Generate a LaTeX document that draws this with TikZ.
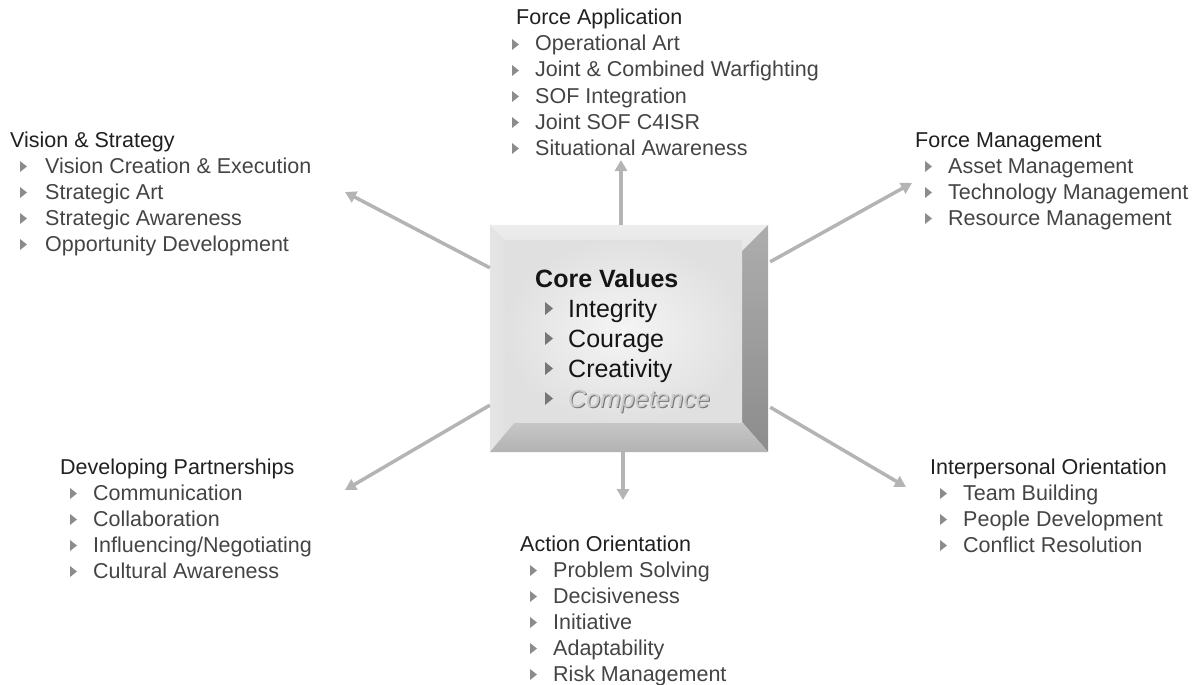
\documentclass[tikz,border=0pt]{standalone}
\usepackage{fontspec}
\setmainfont{Liberation Sans}
\usetikzlibrary{arrows.meta}
\definecolor{ttlc}{HTML}{202020}
\definecolor{itmc}{HTML}{444444}
\definecolor{bulc}{HTML}{8C8C8C}
\definecolor{arrc}{HTML}{B4B4B4}
\definecolor{corec}{HTML}{151515}
\tikzset{
  ttl/.style={anchor=base west, inner sep=0pt, font=\fontsize{21.5}{24}\selectfont, text=ttlc},
  itm/.style={anchor=base west, inner sep=0pt, font=\fontsize{21.5}{24}\selectfont, text=itmc},
  bul/.style={fill=bulc},
  arr/.style={draw=arrc, line width=3.5pt, -{Triangle[width=12pt,length=11pt]}},
  cv/.style={anchor=base west, inner sep=0pt, font=\fontsize{25}{28}\selectfont, text=corec},
  cbul/.style={fill=bulc!85!black},
}
% #1 name, #2 title x, #3 title baseline, #4 bullet x, #5 text x, #6 title, #7 items
\newcommand\grp[7]{%
  \node[ttl] (#1) at (#2,#3) {#6};
  \foreach \t [count=\i] in {#7} {
    \pgfmathsetmacro\yb{#3+26*\i}
    \fill[bul] (#4,\yb-12) -- (#4+7,\yb-6.5) -- (#4,\yb-1) -- cycle;
    \node[itm] (#1-\i) at (#5,\yb) {\t};
  }%
}
\begin{document}
\begin{tikzpicture}[x=1pt,y=-1pt]
\useasboundingbox (0,0) rectangle (1202,685);
% ---- core box ----
\node[inner sep=0pt, minimum width=278pt, minimum height=227pt] (core) at (629,338.5) {};
\coordinate (oA) at (core.north west);
\coordinate (oB) at (core.north east);
\coordinate (oC) at (core.south east);
\coordinate (oD) at (core.south west);
\coordinate (iA) at (505,240);
\coordinate (iB) at (742,251);
\coordinate (iC) at (742,422);
\coordinate (iD) at (515,422);
\shade[top color=white!93!black, bottom color=white!90!black] (oA) -- (oB) -- (iB) -- (iA) -- cycle;
\shade[left color=white!90!black, right color=white!87!black] (oA) -- (iA) -- (iD) -- (oD) -- cycle;
\shade[top color=white!68!black, bottom color=white!55!black] (oB) -- (oC) -- (iC) -- (iB) -- cycle;
\shade[top color=white!78!black, bottom color=white!70!black] (oD) -- (iD) -- (iC) -- (oC) -- cycle;
\shade[inner color=white!96!black, outer color=white!88!black] (iA) rectangle (iC);
\node[cv, font=\fontsize{25}{28}\selectfont\bfseries] (cvt) at (535,287) {Core Values};
\foreach \t [count=\i] in {Integrity,Courage,Creativity} {
  \pgfmathsetmacro\yb{287+30*\i}
  \fill[cbul] (545,\yb-15) -- (553,\yb-8.5) -- (545,\yb-2) -- cycle;
  \node[cv] (cv-\i) at (568,\yb) {\t};
}
\fill[cbul] (545,392) -- (553,398.5) -- (545,405) -- cycle;
\node[cv, text=black!55, font=\fontsize{25}{28}\selectfont\itshape] (cv-4s) at (569,408) {Competence};
\node[cv, text=white!80!black, font=\fontsize{25}{28}\selectfont\itshape] (cv-4) at (568,407) {Competence};
% ---- arrows ----
\coordinate (eUp) at (621,160);
\coordinate (eDn) at (623,500);
\coordinate (eUL) at (345,192);
\coordinate (eUR) at (912,183);
\coordinate (eLL) at (345,490);
\coordinate (eLR) at (906,487);
\draw[arr] (core.north -| eUp) -- (eUp);
\draw[arr] (core.south -| eDn) -- (eDn);
\draw[arr] ([yshift=-43pt]core.north west) -- (eUL);
\draw[arr] ([xshift=2pt,yshift=-37pt]core.north east) -- (eUR);
\draw[arr] ([yshift=47pt]core.south west) -- (eLL);
\draw[arr] ([xshift=2pt,yshift=45pt]core.south east) -- (eLR);
% ---- groups ----
\grp{fa}{516}{25}{512}{535}{Force Application}{Operational Art,Joint \& Combined Warfighting,SOF Integration,Joint SOF C4ISR,Situational Awareness}
\grp{vs}{10}{147}{20}{45}{Vision \& Strategy}{Vision Creation \& Execution,Strategic Art,Strategic Awareness,Opportunity Development}
\grp{fm}{915}{147}{925}{948}{Force Management}{Asset Management,Technology Management,Resource Management}
\grp{dp}{60}{474}{70}{93}{Developing Partnerships}{Communication,Collaboration,Influencing/Negotiating,Cultural Awareness}
\grp{ao}{520}{551}{530}{553}{Action Orientation}{Problem Solving,Decisiveness,Initiative,Adaptability,Risk Management}
\grp{io}{930}{474}{940}{963}{Interpersonal Orientation}{Team Building,People Development,Conflict Resolution}
\end{tikzpicture}
\end{document}
